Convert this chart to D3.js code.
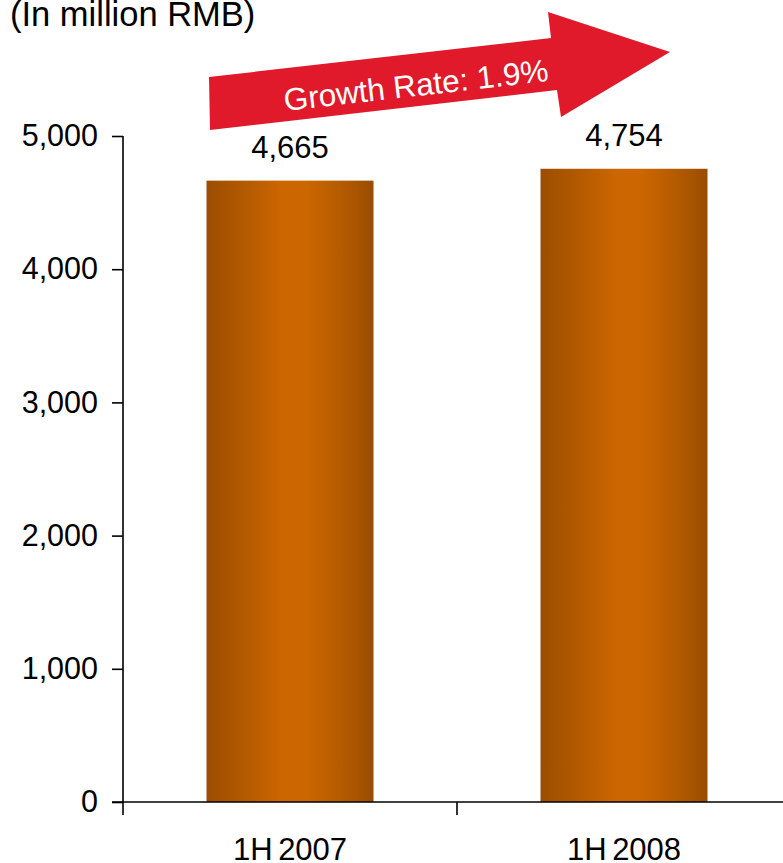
<!DOCTYPE html>
<html>
<head>
<meta charset="utf-8">
<script src="https://cdn.jsdelivr.net/npm/d3@7"></script>
<style>
  html, body { margin: 0; padding: 0; background: #fff; }
  svg text { font-family: "Liberation Sans", Arial, sans-serif; fill: #000; }
</style>
</head>
<body>
<svg id="chart" width="783" height="863"></svg>
<script>
// Revenue by half-year period, in million RMB
const categories = ["1H 2007", "1H 2008"];
const values = [4665, 4754];
const yTicks = [0, 1000, 2000, 3000, 4000, 5000];
const unitLabel = "(In million RMB)";

const svg = d3.select("#chart");
const W = 783, H = 863;
const margin = { left: 123, top: 136, right: -8, bottom: 61 };
const plotRight = W - margin.right;
const plotBottom = H - margin.bottom;

const x = d3.scaleBand()
  .domain(categories)
  .range([margin.left, plotRight])
  .paddingInner(0.5)
  .paddingOuter(0.25);

const y = d3.scaleLinear()
  .domain([0, 5000])
  .range([plotBottom, margin.top]);

// Horizontal shading on the bars
const defs = svg.append("defs");
const grad = defs.append("linearGradient")
  .attr("id", "barShade")
  .attr("x1", "0%").attr("x2", "100%")
  .attr("y1", "0%").attr("y2", "0%");
[["0%", "#9c4d02"], ["20%", "#b05800"], ["45%", "#cc6600"], ["60%", "#cc6600"], ["82%", "#b35a00"], ["100%", "#9a4c02"]]
  .forEach(([o, c]) => grad.append("stop").attr("offset", o).attr("stop-color", c));

// Bars
svg.append("g").selectAll("rect")
  .data(categories)
  .join("rect")
  .attr("x", d => x(d))
  .attr("width", x.bandwidth())
  .attr("y", (d, i) => y(values[i]))
  .attr("height", (d, i) => y(0) - y(values[i]))
  .attr("fill", "url(#barShade)");

// Value labels
svg.append("g").selectAll("text")
  .data(categories)
  .join("text")
  .attr("x", d => x(d) + x.bandwidth() / 2)
  .attr("y", (d, i) => y(values[i]) - 23)
  .attr("text-anchor", "middle")
  .style("font-size", "31px")
  .text((d, i) => d3.format(",")(values[i]));

// Y axis
const yAxis = svg.append("g")
  .attr("transform", `translate(${margin.left},0)`)
  .call(d3.axisLeft(y).tickValues(yTicks).tickFormat(d3.format(",")).tickSize(11).tickPadding(14));
yAxis.select(".domain").attr("d", `M0,${margin.top}V${plotBottom + 13}`);
yAxis.selectAll("path, line").attr("stroke", "#000").attr("stroke-width", 1.6);
yAxis.selectAll("text").style("font-size", "30.5px").attr("font-family", null);

// X axis with dividers between categories
const xAxis = svg.append("g")
  .attr("transform", `translate(0,${plotBottom})`);
xAxis.append("line")
  .attr("x1", margin.left - 11).attr("x2", W)
  .attr("stroke", "#000").attr("stroke-width", 1.6);
const dividers = categories.slice(1).map(c => x(c) - x.step() * x.paddingInner() / 2);
xAxis.selectAll("line.div")
  .data(dividers)
  .join("line")
  .attr("class", "div")
  .attr("x1", d => d).attr("x2", d => d)
  .attr("y1", 0).attr("y2", 13)
  .attr("stroke", "#000").attr("stroke-width", 1.6);
xAxis.selectAll("text")
  .data(categories)
  .join("text")
  .attr("x", d => x(d) + x.bandwidth() / 2)
  .attr("y", 58)
  .attr("text-anchor", "middle")
  .style("font-size", "31px")
  .style("word-spacing", "-3px")
  .text(d => d);

// Unit label
svg.append("text")
  .attr("x", 10)
  .attr("y", 26)
  .style("font-size", "34.5px")
  .text(unitLabel);

// Growth arrow
const growth = (values[1] / values[0] - 1) * 100;
const arrowPts = [[209, 77], [551, 38], [548, 12], [670, 52], [561, 117], [557, 90], [210, 130]];
svg.append("polygon")
  .attr("points", arrowPts.map(p => p.join(",")).join(" "))
  .attr("fill", "#e01a2b");
svg.append("text")
  .attr("transform", "translate(416,85) rotate(-6.5)")
  .attr("text-anchor", "middle")
  .attr("dominant-baseline", "central")
  .style("font-size", "31.5px")
  .style("fill", "#fff")
  .text(`Growth Rate: ${growth.toFixed(1)}%`);
</script>
</body>
</html>
